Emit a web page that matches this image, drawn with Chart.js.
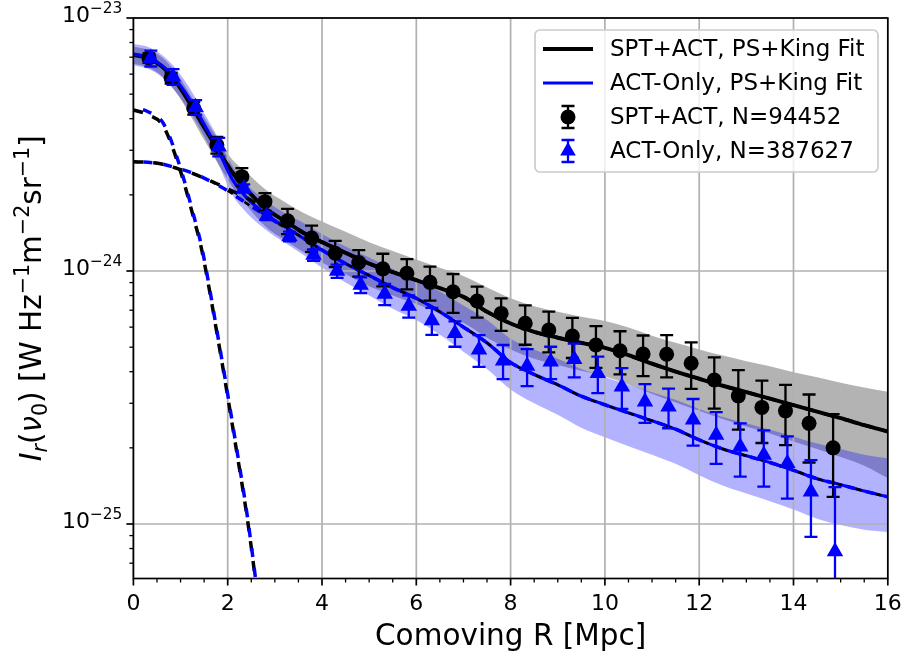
<!DOCTYPE html>
<html>
<head>
<meta charset="utf-8">
<script src="https://cdn.jsdelivr.net/npm/chart.js@4.4.0/dist/chart.umd.min.js"></script>
<style>
  html, body { margin: 0; padding: 0; background: #fff; }
</style>
</head>
<body>
<canvas id="profileChart" width="904" height="655"></canvas>
<script>
// all intensities below are in units of 1e-24 W Hz^-1 m^-2 sr^-1
const UNIT = 1e-24;

// stacked profile points
const sptR = [0.33, 0.80, 1.28, 1.77, 2.30, 2.79, 3.27, 3.78, 4.28, 4.78, 5.29, 5.80, 6.29, 6.78, 7.29, 7.80, 8.31, 8.81, 9.31, 9.81, 10.32, 10.81, 11.31, 11.83, 12.32, 12.83, 13.33, 13.83, 14.33, 14.84];
const sptI = [6.95, 5.79, 4.40, 3.15, 2.36, 1.88, 1.58, 1.35, 1.175, 1.08, 1.02, 0.98, 0.902, 0.828, 0.761, 0.680, 0.621, 0.584, 0.553, 0.510, 0.484, 0.470, 0.469, 0.432, 0.371, 0.321, 0.289, 0.280, 0.250, 0.200];
const sptErr = [0.30, 0.28, 0.25, 0.24, 0.19, 0.15, 0.18, 0.16, 0.14, 0.13, 0.15, 0.134, 0.138, 0.145, 0.107, 0.10, 0.11, 0.107, 0.10, 0.096, 0.094, 0.086, 0.089, 0.09, 0.085, 0.085, 0.08, 0.075, 0.075, 0.072];

const actR = [0.37, 0.84, 1.32, 1.81, 2.34, 2.83, 3.31, 3.82, 4.32, 4.82, 5.33, 5.84, 6.33, 6.82, 7.33, 7.84, 8.35, 8.85, 9.35, 9.85, 10.36, 10.85, 11.35, 11.87, 12.36, 12.87, 13.37, 13.87, 14.37, 14.88];
const actI = [6.93, 5.86, 4.44, 3.10, 2.12, 1.65, 1.37, 1.156, 1.00, 0.881, 0.811, 0.727, 0.637, 0.567, 0.488, 0.442, 0.421, 0.438, 0.448, 0.394, 0.349, 0.304, 0.291, 0.258, 0.225, 0.202, 0.1875, 0.174, 0.134, 0.0778];
const actErr = [0.50, 0.42, 0.30, 0.26, 0.08, 0.06, 0.06, 0.06, 0.06, 0.063, 0.078, 0.073, 0.078, 0.065, 0.07, 0.068, 0.07, 0.064, 0.068, 0.065, 0.064, 0.053, 0.052, 0.054, 0.052, 0.048, 0.047, 0.048, 0.045, 0.062];

// PS+King fits and their bands
const fitR = [0, 0.3, 0.6, 0.9, 1.2, 1.5, 1.8, 2.1, 2.4, 2.8, 3.2, 3.6, 4, 4.5, 5, 5.5, 6, 6.5, 7, 7.5, 8, 8.5, 9, 9.5, 10, 10.5, 11, 11.5, 12, 12.5, 13, 13.5, 14, 14.5, 15, 15.5, 16];
const sptFit = [7.14, 6.95, 6.45, 5.6, 4.6, 3.7, 3.0, 2.45, 2.1, 1.77, 1.58, 1.42, 1.3, 1.18, 1.07, 0.99, 0.92, 0.855, 0.79, 0.69, 0.62, 0.575, 0.545, 0.52, 0.497, 0.465, 0.43, 0.40, 0.375, 0.352, 0.332, 0.313, 0.295, 0.278, 0.262, 0.246, 0.232];
const sptHi = [7.7, 7.5, 7.0, 6.1, 5.0, 4.05, 3.3, 2.75, 2.45, 2.1, 1.88, 1.7, 1.57, 1.43, 1.3, 1.2, 1.11, 1.03, 0.955, 0.86, 0.78, 0.725, 0.69, 0.66, 0.635, 0.598, 0.555, 0.52, 0.49, 0.463, 0.44, 0.42, 0.398, 0.38, 0.362, 0.346, 0.333];
const sptLo = [6.6, 6.4, 5.9, 5.1, 4.15, 3.3, 2.65, 2.15, 1.82, 1.5, 1.33, 1.19, 1.08, 0.97, 0.87, 0.8, 0.74, 0.68, 0.625, 0.545, 0.49, 0.45, 0.425, 0.403, 0.383, 0.356, 0.327, 0.302, 0.28, 0.26, 0.243, 0.228, 0.212, 0.198, 0.184, 0.17, 0.152];
const actFit = [7.2, 7.0, 6.5, 5.7, 4.75, 3.8, 3.0, 2.3, 1.95, 1.68, 1.5, 1.35, 1.21, 1.07, 0.96, 0.86, 0.78, 0.69, 0.60, 0.52, 0.435, 0.39, 0.355, 0.32, 0.296, 0.275, 0.256, 0.237, 0.215, 0.198, 0.186, 0.175, 0.163, 0.151, 0.143, 0.135, 0.128];
const actHi = [7.9, 7.7, 7.15, 6.3, 5.25, 4.2, 3.35, 2.6, 2.2, 1.9, 1.7, 1.55, 1.4, 1.25, 1.13, 1.02, 0.93, 0.83, 0.73, 0.64, 0.54, 0.49, 0.45, 0.41, 0.38, 0.355, 0.332, 0.31, 0.285, 0.265, 0.25, 0.236, 0.222, 0.208, 0.198, 0.188, 0.182];
const actLo = [6.5, 6.3, 5.85, 5.1, 4.25, 3.4, 2.65, 2.0, 1.7, 1.46, 1.3, 1.16, 1.03, 0.9, 0.8, 0.71, 0.64, 0.56, 0.48, 0.41, 0.34, 0.3, 0.27, 0.24, 0.22, 0.203, 0.188, 0.173, 0.156, 0.142, 0.132, 0.123, 0.114, 0.105, 0.099, 0.095, 0.093];

// fit components (dashed)
const psR = [0, 0.3, 0.64, 0.99, 1.27, 1.45, 1.8, 2.15, 2.43, 2.6];
const sptPS = [4.33, 4.15, 3.72, 2.51, 1.64, 1.21, 0.53, 0.215, 0.1007, 0.058];
const actPS = [4.45, 4.27, 3.82, 2.58, 1.68, 1.24, 0.54, 0.22, 0.103, 0.059];
const sptKing = [2.70, 2.69, 2.65, 2.55, 2.45, 2.33, 2.2, 2.07, 1.95, 1.75, 1.57, 1.415, 1.3, 1.18, 1.07, 0.99, 0.92, 0.855, 0.79, 0.69, 0.62, 0.575, 0.545, 0.52, 0.497, 0.465, 0.43, 0.40, 0.375, 0.352, 0.332, 0.313, 0.295, 0.278, 0.262, 0.246, 0.232];
const actKing = [2.70, 2.69, 2.65, 2.56, 2.46, 2.33, 2.18, 2.02, 1.85, 1.66, 1.49, 1.35, 1.21, 1.07, 0.96, 0.86, 0.78, 0.69, 0.60, 0.52, 0.435, 0.39, 0.355, 0.32, 0.296, 0.275, 0.256, 0.237, 0.215, 0.198, 0.186, 0.175, 0.163, 0.151, 0.143, 0.135, 0.128];

const xTicks = [0, 2, 4, 6, 8, 10, 12, 14, 16];
const yDecades = [-25, -24, -23];

const FONT = '"DejaVu Sans", sans-serif';
const BLUE = '#0000ff';
const TICK_PX = 22;
const LABEL_PX = 29.5;

const pts = (xs, ys) => xs.map((x, i) => ({ x: x, y: ys[i] * UNIT }));

////////// helpers for mathtext-like labels //////////
function partFont(p, size) {
  const s = size * (p.sc || 1);
  return (p.it ? 'italic ' : '') + s + 'px ' + FONT;
}
function richWidth(ctx, parts, size) {
  let w = 0;
  parts.forEach((p) => { ctx.font = partFont(p, size); w += ctx.measureText(p.t).width; });
  return w;
}
function drawRich(ctx, parts, x, y, size) {
  let cx = x;
  parts.forEach((p) => {
    ctx.font = partFont(p, size);
    ctx.fillText(p.t, cx, y + (p.dy || 0) * size);
    cx += ctx.measureText(p.t).width;
  });
}
const SUP = { sc: 0.7, dy: -0.42 };
const SUB = { sc: 0.7, dy: 0.2 };

const yLabel = [
  { t: 'I', it: true }, { t: 'r', it: true, ...SUB }, { t: '(' }, { t: 'ν', it: true },
  { t: '0', ...SUB }, { t: ') [W Hz' }, { t: '−1', ...SUP }, { t: 'm' }, { t: '−2', ...SUP },
  { t: 'sr' }, { t: '−1', ...SUP }, { t: ']' },
];

////////// plugins //////////
// grid goes above the shaded bands but under the lines
const gridBelow = {
  id: 'gridBelow',
  beforeDatasetsDraw(chart) {
    const { ctx, chartArea: a, scales: { x, y } } = chart;
    ctx.save();
    ctx.strokeStyle = '#b0b0b0';
    ctx.lineWidth = 1.7;
    xTicks.forEach((v) => {
      const px = x.getPixelForValue(v);
      ctx.beginPath(); ctx.moveTo(px, a.top); ctx.lineTo(px, a.bottom); ctx.stroke();
    });
    yDecades.forEach((d) => {
      const py = y.getPixelForValue(Math.pow(10, d));
      ctx.beginPath(); ctx.moveTo(a.left, py); ctx.lineTo(a.right, py); ctx.stroke();
    });
    ctx.restore();
  },
};

const errorBars = {
  id: 'errorBars',
  beforeDatasetDraw(chart, args) {
    const ds = chart.data.datasets[args.index];
    if (!ds.yErr) return;
    const { ctx, chartArea: a, scales: { x, y } } = chart;
    ctx.save();
    ctx.beginPath();
    ctx.rect(a.left, a.top, a.right - a.left, a.bottom - a.top);
    ctx.clip();
    ctx.strokeStyle = ds.backgroundColor;
    ctx.lineWidth = 2.3;
    ds.data.forEach((p, i) => {
      const e = ds.yErr[i] * UNIT;
      const px = x.getPixelForValue(p.x);
      const hi = y.getPixelForValue(p.y + e);
      const lo = p.y - e > 0 ? y.getPixelForValue(p.y - e) : a.bottom + 20;
      ctx.beginPath();
      ctx.moveTo(px, hi); ctx.lineTo(px, lo);
      ctx.moveTo(px - 6.5, hi); ctx.lineTo(px + 6.5, hi);
      ctx.moveTo(px - 6.5, lo); ctx.lineTo(px + 6.5, lo);
      ctx.stroke();
    });
    ctx.restore();
  },
};

const axesDecor = {
  id: 'axesDecor',
  afterDraw(chart) {
    const { ctx, chartArea: a, scales: { x, y } } = chart;
    ctx.save();
    ctx.fillStyle = '#000';
    ctx.strokeStyle = '#000';

    // ticks
    for (let v = 0; v <= 16.001; v += 0.5) {
      const px = x.getPixelForValue(v);
      const major = Math.abs(v / 2 - Math.round(v / 2)) < 1e-6;
      ctx.lineWidth = major ? 1.7 : 1.3;
      ctx.beginPath(); ctx.moveTo(px, a.bottom); ctx.lineTo(px, a.bottom + (major ? 7 : 4)); ctx.stroke();
    }
    [-26, -25, -24].forEach((d) => {
      for (let m = 1; m <= 9; m++) {
        const v = m * Math.pow(10, d);
        if (v < y.min || v > y.max * 1.0001) continue;
        const py = y.getPixelForValue(v);
        ctx.lineWidth = m === 1 ? 1.7 : 1.3;
        ctx.beginPath(); ctx.moveTo(a.left, py); ctx.lineTo(a.left - (m === 1 ? 7 : 4), py); ctx.stroke();
      }
    });
    const py23 = y.getPixelForValue(1e-23);
    ctx.lineWidth = 1.7;
    ctx.beginPath(); ctx.moveTo(a.left, py23); ctx.lineTo(a.left - 7, py23); ctx.stroke();

    // frame
    ctx.lineWidth = 1.7;
    ctx.strokeRect(a.left, a.top, a.right - a.left, a.bottom - a.top);

    // tick labels
    ctx.textBaseline = 'alphabetic';
    ctx.textAlign = 'center';
    ctx.font = TICK_PX + 'px ' + FONT;
    xTicks.forEach((v) => ctx.fillText(String(v), x.getPixelForValue(v), 610));
    ctx.textAlign = 'left';
    yDecades.forEach((d) => {
      const py = y.getPixelForValue(Math.pow(10, d));
      const parts = [{ t: '10' }, { t: '−' + Math.abs(d), ...SUP }];
      const w = richWidth(ctx, parts, TICK_PX);
      drawRich(ctx, parts, a.left - 11 - w, py + 4, TICK_PX);
    });

    // axis titles
    ctx.font = LABEL_PX + 'px ' + FONT;
    ctx.textAlign = 'center';
    ctx.fillText('Comoving R [Mpc]', (a.left + a.right) / 2, 645);
    ctx.textAlign = 'left';
    ctx.translate(41, (a.top + a.bottom) / 2);
    ctx.rotate(-Math.PI / 2);
    const lw = richWidth(ctx, yLabel, LABEL_PX);
    drawRich(ctx, yLabel, -lw / 2, 0, LABEL_PX);
    ctx.restore();

    // legend
    ctx.save();
    const bx = 535, by = 30, bw = 343, bh = 142;
    ctx.fillStyle = 'rgba(255,255,255,0.8)';
    ctx.strokeStyle = '#cccccc';
    ctx.lineWidth = 1.7;
    ctx.beginPath();
    ctx.roundRect(bx, by, bw, bh, 5);
    ctx.fill(); ctx.stroke();
    const rows = [49, 83, 117, 151];
    ctx.lineWidth = 4; ctx.strokeStyle = '#000';
    ctx.beginPath(); ctx.moveTo(543, rows[0]); ctx.lineTo(593, rows[0]); ctx.stroke();
    ctx.lineWidth = 3; ctx.strokeStyle = BLUE;
    ctx.beginPath(); ctx.moveTo(543, rows[1]); ctx.lineTo(593, rows[1]); ctx.stroke();
    // errorbar handles
    [[rows[2], '#000'], [rows[3], BLUE]].forEach(([ry, c]) => {
      ctx.strokeStyle = c; ctx.lineWidth = 2.3;
      ctx.beginPath();
      ctx.moveTo(568, ry - 11); ctx.lineTo(568, ry + 11);
      ctx.moveTo(561.5, ry - 11); ctx.lineTo(574.5, ry - 11);
      ctx.moveTo(561.5, ry + 11); ctx.lineTo(574.5, ry + 11);
      ctx.stroke();
    });
    ctx.fillStyle = '#000';
    ctx.beginPath(); ctx.arc(568, rows[2], 7.5, 0, Math.PI * 2); ctx.fill();
    ctx.fillStyle = BLUE;
    ctx.beginPath();
    ctx.moveTo(568, rows[3] - 9); ctx.lineTo(568 + 7.8, rows[3] + 4.5); ctx.lineTo(568 - 7.8, rows[3] + 4.5);
    ctx.closePath(); ctx.fill();
    ctx.fillStyle = '#000';
    ctx.font = '23px ' + FONT;
    ctx.textBaseline = 'middle';
    ctx.textAlign = 'left';
    ['SPT+ACT, PS+King Fit', 'ACT-Only, PS+King Fit', 'SPT+ACT, N=94452', 'ACT-Only, N=387627']
      .forEach((t, i) => ctx.fillText(t, 610, rows[i] + 1));
    ctx.restore();
  },
};

////////// chart //////////
const ctx = document.getElementById('profileChart').getContext('2d');

const lineBase = { type: 'line', pointRadius: 0, fill: false, cubicInterpolationMode: 'monotone' };

const profileChart = new Chart(ctx, {
  type: 'line',
  data: {
    datasets: [
      // bands
      { ...lineBase, data: pts(fitR, sptHi), borderWidth: 0, fill: '+1', backgroundColor: 'rgba(128,128,128,0.6)', order: 30 },
      { ...lineBase, data: pts(fitR, sptLo), borderWidth: 0, order: 30 },
      { ...lineBase, data: pts(fitR, actHi), borderWidth: 0, fill: '+1', backgroundColor: 'rgba(0,0,255,0.3)', order: 29 },
      { ...lineBase, data: pts(fitR, actLo), borderWidth: 0, order: 29 },
      // fits
      { ...lineBase, data: pts(fitR, sptFit), borderColor: '#000', borderWidth: 4, order: 12 },
      { ...lineBase, data: pts(fitR, actFit), borderColor: BLUE, borderWidth: 3.2, order: 11 },
      // components
      { ...lineBase, data: pts(psR, sptPS), borderColor: '#000', borderWidth: 3.5, borderDash: [10, 10], order: 9 },
      { ...lineBase, data: pts(psR, actPS), borderColor: BLUE, borderWidth: 3.5, borderDash: [9, 11], borderDashOffset: 10, order: 8 },
      { ...lineBase, data: pts(fitR, sptKing), borderColor: '#000', borderWidth: 3.5, borderDash: [10, 10], order: 7 },
      { ...lineBase, data: pts(fitR, actKing), borderColor: '#000', borderWidth: 2.5, borderDash: [6, 14], order: 6 },
      { ...lineBase, data: pts(fitR, actKing), borderColor: BLUE, borderWidth: 3.5, borderDash: [9, 11], borderDashOffset: 10, order: 5 },
      // data
      { type: 'line', showLine: false, data: pts(sptR, sptI), yErr: sptErr, pointStyle: 'circle', pointRadius: 7.5,
        pointBorderWidth: 0, backgroundColor: '#000', borderColor: '#000', order: 2 },
      { type: 'line', showLine: false, data: pts(actR, actI), yErr: actErr, pointStyle: 'triangle', pointRadius: 9.5,
        pointBorderWidth: 0, backgroundColor: BLUE, borderColor: BLUE, order: 1 },
    ],
  },
  options: {
    responsive: false,
    animation: false,
    devicePixelRatio: 1,
    layout: { padding: { top: 18, right: 16.2, left: 0, bottom: 0 } },
    plugins: {
      legend: { display: false },
      tooltip: { enabled: false },
      filler: { drawTime: 'beforeDatasetsDraw' },
    },
    scales: {
      x: {
        type: 'linear', min: 0, max: 16,
        grid: { display: false }, border: { display: false }, ticks: { display: false },
        afterFit(s) { s.height = 655 - 578.5; },
      },
      y: {
        type: 'logarithmic', min: 6.09e-26, max: 1e-23,
        grid: { display: false }, border: { display: false }, ticks: { display: false },
        afterFit(s) { s.width = 133.4; },
      },
    },
  },
  plugins: [gridBelow, errorBars, axesDecor],
});
</script>
</body>
</html>
